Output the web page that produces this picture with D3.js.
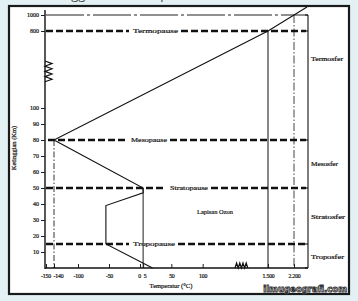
<!DOCTYPE html>
<html><head><meta charset="utf-8">
<script src="https://cdn.jsdelivr.net/npm/d3@7"></script>
<style>
html,body{margin:0;padding:0;background:#e3f1f5;}
svg{display:block;}
svg text.t{stroke:#222;stroke-width:0.22px;}
</style></head>
<body>
<svg id="c" width="358" height="301"></svg>
<script>
// ---- data ----
const yTickValues = [10,20,30,40,50,60,70,80,90,100,800,1000];
const yTickLabels = ["10","20","30","40","50","60","70","80","90","100","800","1000"];
const xTickValues = [-150,-140,-100,-50,0,5,50,100,1500,2200];
const xTickLabels = ["-150","-140","-100","-50","0","5","50","100","1.500","2.200"];
// temperature profile: [temperature °C, altitude km]
const profileTemp = [20,-55,-55,5,5,-140,1500,2200,2550];
const profileAlt  = [0,15,39,47,50,80,800,1000,1100];
// boundaries (pauses)
const pauseNames = ["Termopause","Mesopause","Stratopause","Tropopause"];
const pauseAlt   = [800,80,50,15];
const layerNames = ["Termosfer","Mesosfer","Stratosfer","Troposfer"];
const layerMidAlt= [550,65,32,7];
const bracketAlt = [1000,800,80,50,15,0];

const svg = d3.select("#c");
// frame
svg.append("rect").attr("x",9).attr("y",6).attr("width",340).attr("height",288)
  .attr("fill","#fff").attr("stroke","#1a1a1a").attr("stroke-width",2.2);
// clipped title (only descenders visible in the reference)
svg.append("text").attr("x",40).attr("y",-1).attr("font-family","Open Sans, sans-serif")
  .attr("font-size",13).attr("fill","#444").text("Ketinggian dan Temperatur Atmosfer");

const x = d3.scaleLinear().domain([-150,-140,-100,-50,0,150,1500,2200])
  .range([46,54,78,109,140,234,268,294]);
const y = d3.scaleLinear().domain([0,100,800,1000]).range([268,108,31,15]);

const serif = "Liberation Serif, Times New Roman, serif";

// 1000 km dash-dot line
svg.append("line").attr("x1",x(-150)).attr("x2",308).attr("y1",y(1000)).attr("y2",y(1000))
  .attr("stroke","#222").attr("stroke-width",1.2).attr("stroke-dasharray","38,3,3,3");

// vertical reference lines
svg.append("line").attr("x1",x(-140)).attr("x2",x(-140)).attr("y1",y(80)).attr("y2",y(0))
  .attr("stroke","#333").attr("stroke-width",1).attr("stroke-dasharray","6,2,1.5,2");
svg.append("line").attr("x1",x(5)).attr("x2",x(5)).attr("y1",y(50)).attr("y2",y(0))
  .attr("stroke","#333").attr("stroke-width",1.1);
svg.append("line").attr("x1",x(1500)).attr("x2",x(1500)).attr("y1",y(800)).attr("y2",y(0))
  .attr("stroke","#222").attr("stroke-width",1.1);
svg.append("line").attr("x1",x(2200)).attr("x2",x(2200)).attr("y1",y(1000)).attr("y2",y(0))
  .attr("stroke","#444").attr("stroke-width",1).attr("stroke-dasharray","8,2,1.5,2");

// pause dashed lines with labels
const labelX = [133,131,170,133];
const labelW = [45,36,38,42];
pauseNames.forEach((n,i)=>{
  const yy = y(pauseAlt[i]);
  const x0 = i===1 ? x(-140)-6 : x(-150);
  const g = svg.append("g");
  g.append("line").attr("x1",x0).attr("x2",labelX[i]-4).attr("y1",yy).attr("y2",yy)
    .attr("stroke","#111").attr("stroke-width",2.6).attr("stroke-dasharray","7,3");
  g.append("line").attr("x1",labelX[i]+labelW[i]+3).attr("x2",306).attr("y1",yy).attr("y2",yy)
    .attr("stroke","#111").attr("stroke-width",2.6).attr("stroke-dasharray","7,3");
  g.append("text").attr("class","t").attr("x",labelX[i]).attr("y",yy+2.3).attr("font-family",serif)
    .attr("font-size",7).attr("fill","#111").attr("textLength",labelW[i])
    .attr("lengthAdjust","spacingAndGlyphs").text(n);
});

// temperature profile
const pts = profileTemp.map((t,i)=>[t,profileAlt[i]]);
svg.append("path").datum(pts)
  .attr("d",d3.line().x(d=>x(d[0])).y(d=>y(d[1])))
  .attr("fill","none").attr("stroke","#111").attr("stroke-width",1.1);

// axes
const yAxis = d3.axisLeft(y).tickValues(yTickValues).tickSize(4).tickPadding(2)
  .tickFormat((d,i)=>yTickLabels[i]);
const gy = svg.append("g").attr("transform","translate(45,0)").call(yAxis);
gy.select(".domain").remove();
gy.selectAll("text").attr("class","t").attr("font-family",serif).attr("font-size",6).attr("fill","#111");
gy.selectAll("line").attr("stroke","#222");
svg.append("line").attr("x1",45).attr("x2",45).attr("y1",10).attr("y2",269)
  .attr("stroke","#111").attr("stroke-width",1.4);

const xAxis = d3.axisBottom(x).tickValues(xTickValues).tickSize(-4).tickPadding(6)
  .tickFormat((d,i)=>xTickLabels[i]);
const gx = svg.append("g").attr("transform","translate(0,268)").call(xAxis);
gx.select(".domain").remove();
gx.selectAll("text").attr("class","t").attr("font-family",serif).attr("font-size",5.8).attr("fill","#111")
  .attr("letter-spacing",-0.2);
gx.selectAll("line").attr("stroke","#222");
gx.selectAll(".tick").filter(d=>d===-150).select("text").attr("dx",-0.5);
gx.selectAll(".tick").filter(d=>d===-140).select("text").attr("dx",4);
gx.selectAll(".tick").filter(d=>d===0).select("text").attr("text-anchor","end").attr("dx",0.5);
gx.selectAll(".tick").filter(d=>d===5).select("text").attr("text-anchor","start").attr("dx",0);
svg.append("line").attr("x1",45).attr("x2",308).attr("y1",268).attr("y2",268)
  .attr("stroke","#111").attr("stroke-width",1.4);

// axis breaks (zigzags)
const zzY = d3.range(0,9).map(i=>[45+(i%2? 7:0), 61+i*2.6]);
svg.append("path").attr("d",d3.line()(zzY)).attr("fill","none").attr("stroke","#111").attr("stroke-width",1.2);
const zzX = d3.range(0,9).map(i=>[235+i*1.6, 268-(i%2? 5:0)]);
svg.append("path").attr("d",d3.line()(zzX)).attr("fill","none").attr("stroke","#111").attr("stroke-width",1.2);

// axis titles
svg.append("text").attr("class","t").attr("x",171).attr("y",288).attr("text-anchor","middle")
  .attr("font-family",serif).attr("font-size",6.5).attr("fill","#111").text("Temperatur (°C)");
svg.append("text").attr("class","t").attr("transform","translate(16,148) rotate(-90)").attr("text-anchor","middle")
  .attr("font-family",serif).attr("font-size",6.5).attr("fill","#111").text("Ketinggian (Km)");

// right bracket
svg.append("line").attr("x1",308).attr("x2",308).attr("y1",y(1000)).attr("y2",y(0))
  .attr("stroke","#111").attr("stroke-width",1.1);
svg.selectAll(".brk").data(bracketAlt).enter().append("line")
  .attr("x1",305).attr("x2",308).attr("y1",d=>y(d)).attr("y2",d=>y(d))
  .attr("stroke","#111").attr("stroke-width",1.1);
const layW = [32,27,34,33];
svg.selectAll(".lay").data(layerNames).enter().append("text").attr("class","t")
  .attr("x",311).attr("y",(d,i)=>y(layerMidAlt[i])+2.3)
  .attr("font-family",serif).attr("font-size",7).attr("fill","#000")
  .attr("textLength",(d,i)=>layW[i]).attr("lengthAdjust","spacingAndGlyphs").text(d=>d);

// ozone label
svg.append("text").attr("class","t").attr("x",197).attr("y",y(35)+2.3)
  .attr("font-family",serif).attr("font-size",7).attr("fill","#111")
  .attr("textLength",36).attr("lengthAdjust","spacingAndGlyphs").text("Lapisan Ozon");

// watermark
svg.append("text").attr("x",347).attr("y",292).attr("text-anchor","end")
  .attr("font-family","DejaVu Sans, sans-serif").attr("font-weight","bold").attr("font-size",8.5)
  .attr("fill","#fff").attr("stroke","#333").attr("stroke-width",0.9).text("ilmugeografi.com");
</script>
</body></html>
